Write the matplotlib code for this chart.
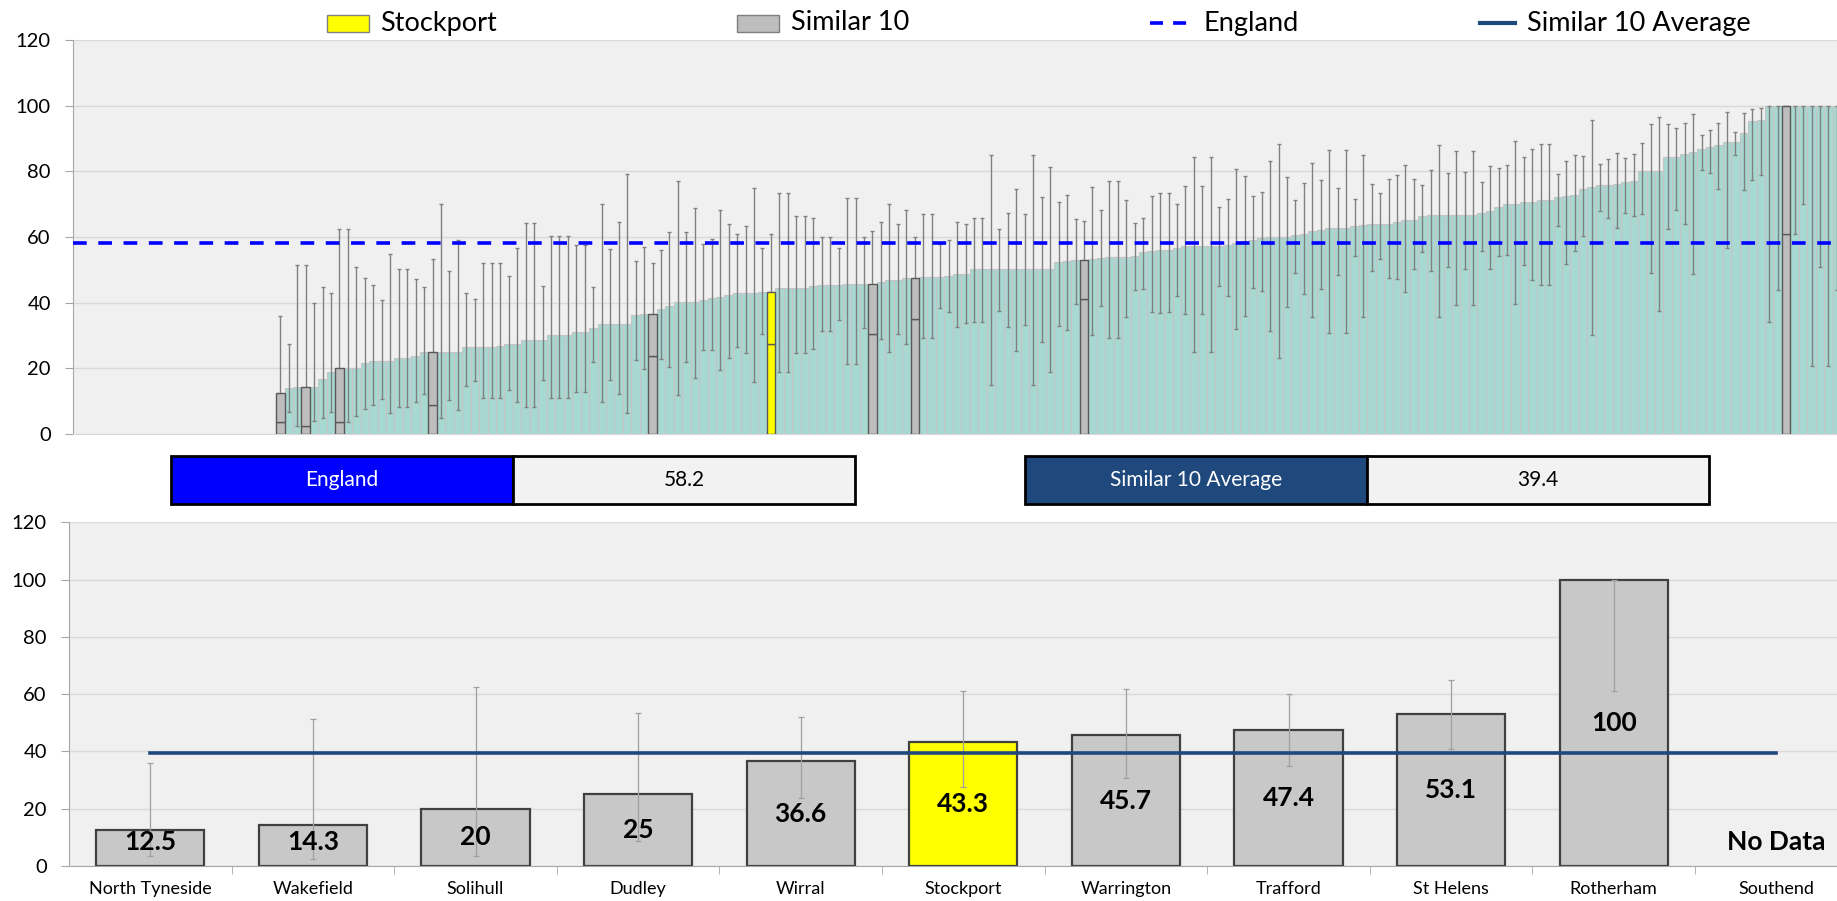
import numpy as np
import matplotlib
matplotlib.use('Agg')
import matplotlib.pyplot as plt
from matplotlib.patches import Rectangle
from matplotlib.lines import Line2D

plt.rcParams['font.family'] = ['Lato', 'DejaVu Sans']

# top panel: all authorities with data, sorted (24 authorities with no data on the left)
n_no_data = 24
top_values = [12.5, 13.9, 14.3, 14.3, 14.3, 16.8, 18.8, 20.0, 20.0, 20.0,
              21.6, 22.2, 22.2, 22.2, 23.0, 23.0, 23.7, 25.0, 25.0, 25.0,
              25.0, 25.0, 26.6, 26.6, 26.6, 26.6, 26.8, 27.4, 27.4, 28.6,
              28.6, 28.6, 30.2, 30.2, 30.2, 31.0, 31.0, 32.2, 33.4, 33.4,
              33.4, 33.4, 36.2, 36.4, 36.6, 38.0, 39.0, 40.1, 40.1, 40.1,
              40.8, 41.5, 41.6, 42.2, 42.8, 42.8, 42.8, 43.2, 43.3, 44.6,
              44.6, 44.6, 44.6, 45.1, 45.3, 45.3, 45.5, 45.6, 45.6, 45.7,
              45.7, 46.2, 46.8, 46.8, 47.4, 47.4, 47.9, 47.9, 47.9, 48.1,
              48.6, 48.8, 50.2, 50.2, 50.2, 50.2, 50.2, 50.2, 50.2, 50.2,
              50.2, 50.2, 52.3, 52.7, 52.9, 53.1, 53.4, 53.7, 53.9, 53.9,
              53.9, 54.2, 55.3, 55.6, 56.0, 56.0, 56.5, 57.3, 57.3, 57.3,
              57.3, 57.3, 57.6, 58.3, 58.7, 59.2, 59.7, 60.0, 60.0, 60.0,
              60.6, 60.9, 61.7, 62.1, 62.7, 62.7, 62.7, 63.4, 63.8, 64.0,
              64.0, 64.0, 64.6, 65.1, 65.2, 66.4, 66.8, 66.8, 66.8, 66.8,
              66.8, 66.8, 67.3, 67.9, 69.0, 70.0, 70.0, 70.6, 70.7, 71.4,
              71.4, 72.1, 72.4, 72.8, 74.5, 75.2, 75.8, 75.8, 76.0, 76.6,
              77.1, 80.1, 80.1, 80.1, 84.3, 84.3, 85.2, 85.8, 86.8, 87.3,
              87.9, 88.9, 88.9, 91.7, 95.3, 95.7, 100, 100, 100, 100,
              100, 100, 100, 100, 100]
top_upper = [36.0, 27.3, 51.4, 51.4, 40.0, 44.9, 43.0, 62.5, 62.5, 51.0,
             47.6, 45.3, 40.8, 54.9, 50.4, 50.4, 47.3, 44.9, 53.3, 70.0,
             49.5, 59.1, 43.0, 41.1, 52.0, 52.0, 52.0, 48.2, 56.5, 64.3,
             64.3, 45.1, 60.4, 60.4, 60.4, 57.6, 57.6, 44.9, 70.0, 56.3,
             64.6, 79.3, 52.6, 57.1, 52.0, 56.0, 61.5, 77.0, 61.5, 68.7,
             57.8, 59.3, 68.1, 63.9, 61.0, 63.5, 75.0, 56.8, 61.0, 73.3,
             73.3, 66.3, 66.3, 65.9, 60.1, 60.1, 56.5, 72.0, 72.0, 59.9,
             61.8, 64.6, 70.0, 63.9, 68.3, 60.1, 67.1, 67.1, 57.8, 59.1,
             64.7, 63.9, 65.9, 65.9, 85.1, 62.5, 67.4, 74.6, 66.9, 85.1,
             72.1, 81.3, 70.8, 72.7, 65.4, 64.9, 75.3, 68.1, 77.0, 77.0,
             71.4, 64.2, 65.9, 72.6, 73.3, 73.3, 70.0, 75.6, 84.3, 75.6,
             84.3, 69.0, 71.5, 80.7, 78.5, 72.4, 73.6, 83.2, 88.2, 78.2,
             71.2, 76.5, 82.4, 77.4, 86.4, 74.8, 86.4, 71.5, 84.9, 76.1,
             73.5, 77.6, 79.0, 81.9, 77.7, 75.7, 80.3, 88.0, 79.4, 86.3,
             79.8, 86.3, 76.9, 81.5, 80.9, 81.9, 89.3, 84.3, 86.7, 88.3,
             88.3, 79.3, 83.1, 85.0, 84.8, 95.5, 82.2, 83.7, 85.7, 84.0,
             85.2, 88.7, 94.3, 96.4, 94.5, 93.1, 94.8, 97.4, 91.2, 92.5,
             94.7, 98.1, 92.0, 97.7, 99.1, 99.4, 100, 100, 100, 100,
             100, 100, 100, 100, 100]
top_lower = [3.6, 6.6, 2.5, 2.5, 4.1, 4.8, 6.6, 3.6, 3.6, 5.6,
             7.6, 8.9, 10.7, 6.3, 8.1, 8.1, 9.6, 12.1, 8.9, 4.8,
             10.4, 7.3, 14.7, 16.0, 10.9, 10.9, 10.9, 13.3, 9.8, 8.2,
             8.2, 16.4, 10.9, 10.9, 10.9, 12.7, 12.7, 21.8, 9.6, 16.4,
             12.1, 6.3, 22.5, 19.7, 23.8, 22.7, 20.3, 11.8, 22.0, 17.0,
             25.6, 25.6, 19.4, 23.1, 26.6, 24.6, 15.8, 30.6, 27.5, 19.0,
             19.0, 24.6, 24.6, 25.9, 31.3, 31.3, 34.6, 21.3, 21.3, 32.2,
             30.6, 28.8, 24.9, 30.4, 27.3, 34.9, 29.3, 29.3, 38.3, 37.3,
             32.5, 33.7, 34.0, 34.0, 15.0, 37.6, 32.7, 25.4, 33.1, 15.0,
             27.9, 18.8, 33.0, 31.7, 39.7, 41.0, 30.2, 38.9, 29.1, 29.1,
             35.5, 43.8, 44.1, 37.3, 37.0, 37.1, 42.1, 36.5, 25.1, 36.5,
             25.1, 45.0, 42.1, 32.0, 36.0, 44.6, 43.6, 31.3, 23.0, 38.8,
             49.0, 42.5, 35.5, 44.1, 30.7, 48.3, 30.7, 54.2, 35.5, 49.6,
             53.2, 47.6, 47.1, 43.4, 50.3, 55.4, 49.7, 35.5, 51.0, 39.2,
             50.4, 39.2, 55.8, 50.2, 54.1, 54.6, 39.7, 51.6, 47.0, 45.4,
             45.4, 63.5, 51.7, 55.8, 60.4, 30.2, 67.9, 65.9, 62.6, 67.3,
             66.3, 67.1, 49.0, 37.6, 62.4, 68.3, 64.1, 48.6, 80.4, 79.6,
             74.5, 56.5, 85.0, 74.2, 77.4, 79.0, 34.2, 44.0, 61.0, 61.0,
             70.2, 20.7, 51.0, 20.7, 44.0]
# position (1-based, within the bars above) of the similar 10 and Stockport
similar_pos = [1, 4, 8, 19, 45, 71, 76, 96, 179]
stockport_pos = 59

# bottom panel
areas = ['North Tyneside', 'Wakefield', 'Solihull', 'Dudley', 'Wirral', 'Stockport',
         'Warrington', 'Trafford', 'St Helens', 'Rotherham', 'Southend']
area_values = [12.5, 14.3, 20, 25, 36.6, 43.3, 45.7, 47.4, 53.1, 100, np.nan]
area_upper = [36.0, 51.4, 62.5, 53.3, 52.0, 61.0, 61.8, 60.1, 64.9, 100, np.nan]
area_lower = [3.6, 2.5, 3.6, 8.9, 23.8, 27.5, 30.6, 34.9, 41.0, 61.0, np.nan]

england = 58.2
similar_avg = 39.4

W, H = 1837, 901
fig = plt.figure(figsize=(W / 100, H / 100), dpi=100)

teal = '#A8D8D2'
grey_bar = '#BDBDBD'
bg = '#F0F0F0'
grid_c = '#D9D9D9'
axis_c = '#A6A6A6'
navy = '#1F497D'


def style_axes(ax):
    ax.set_facecolor(bg)
    ax.set_ylim(0, 120)
    ax.set_yticks(range(0, 121, 20))
    ax.yaxis.grid(True, color=grid_c, lw=1)
    ax.set_axisbelow(True)
    for s in ['top', 'right']:
        ax.spines[s].set_visible(False)
    ax.spines['left'].set_color(axis_c)
    ax.spines['bottom'].set_color(grid_c)
    ax.tick_params(axis='y', length=6, color=axis_c, pad=10, labelsize=14.5)


# ---- top chart ----
pitch = 8.46
n_slots = n_no_data + len(top_values)
ax1 = fig.add_axes([73 / W, 1 - 434 / H, n_slots * pitch / W, 394 / H])
style_axes(ax1)
x = np.arange(len(top_values)) + n_no_data
vals = np.array(top_values)
lo = np.array(top_lower)
hi = np.array(top_upper)
ax1.bar(x, vals, width=1.0, color=teal, edgecolor='#C4C4C4', lw=0.8, zorder=1)
ax1.errorbar(x, vals, yerr=[vals - lo, hi - vals], fmt='none', ecolor='#808080',
             elinewidth=1, capsize=1.7, capthick=1, zorder=2)
for p in similar_pos + [stockport_pos]:
    i = p - 1
    c = '#FFFF00' if p == stockport_pos else grey_bar
    ax1.bar(x[i], lo[i], width=1.0, color=c, edgecolor='#595959', lw=1, zorder=3)
    ax1.bar(x[i], vals[i] - lo[i], bottom=lo[i], width=1.0, color=c,
            edgecolor='#595959', lw=1, zorder=3)
ax1.axhline(england, color='#0000FF', lw=2.6, ls=(0, (3.8, 3.2)), zorder=4)
ax1.set_xlim(-0.5, n_slots - 0.5)
ax1.set_xticks([])

# ---- bottom chart ----
ax2 = fig.add_axes([69 / W, 1 - 866 / H, 11 * 162.6 / W, 343.7 / H])
style_axes(ax2)
ax2.spines['bottom'].set_color(axis_c)
xb = np.arange(len(areas))
bv = np.array(area_values)
colors = ['#FFFF00' if a == 'Stockport' else '#C8C8C8' for a in areas]
ax2.bar(xb, bv, width=0.665, color=colors, edgecolor='#404040', lw=1.6, zorder=2)
ax2.errorbar(xb, bv, yerr=[bv - np.array(area_lower), np.array(area_upper) - bv],
             fmt='none', ecolor='#A0A0A0', elinewidth=0.9, capsize=2.2, capthick=0.9,
             zorder=3)
ax2.plot([0, len(areas) - 1], [similar_avg, similar_avg], color=navy, lw=2.6, zorder=4)
for i, v in enumerate(area_values):
    if np.isnan(v):
        ax2.text(i, 8.3, 'No Data', ha='center', va='center', fontsize=19,
                 fontweight='bold', zorder=5)
    else:
        ax2.text(i, max(v / 2, 8.3), f'{v:g}', ha='center', va='center', fontsize=19,
                 fontweight='bold', zorder=5)
ax2.set_xlim(-0.5, len(areas) - 0.5)
ax2.set_xticks(xb)
ax2.set_xticklabels(areas, fontsize=13)
ax2.set_xticks(xb[:-1] + 0.5, minor=True)
ax2.tick_params(axis='x', which='major', length=0, pad=11)
ax2.tick_params(axis='x', which='minor', length=6, color=axis_c)

# ---- value boxes between the charts ----
def value_box(x0, label, value, fill):
    y0 = 1 - 504 / H
    h = 48 / H
    w = 342 / W
    fig.add_artist(Rectangle((x0 / W, y0), w, h, facecolor=fill, edgecolor='black',
                             lw=2, transform=fig.transFigure))
    fig.add_artist(Rectangle((x0 / W + w, y0), w, h, facecolor='#F2F2F2',
                             edgecolor='black', lw=2, transform=fig.transFigure))
    fig.text(x0 / W + w / 2, y0 + h / 2, label, color='white', fontsize=15,
             ha='center', va='center')
    fig.text(x0 / W + 1.5 * w, y0 + h / 2, value, color='black', fontsize=15,
             ha='center', va='center')


value_box(171, 'England', f'{england}', '#0000FF')
value_box(1025, 'Similar 10 Average', f'{similar_avg}', navy)

# ---- legend along the top ----
ly = 1 - 23 / H
fig.add_artist(Rectangle((327 / W, 1 - 32 / H), 42 / W, 17 / H, facecolor='#FFFF00',
                         edgecolor='#7F7F7F', lw=1, transform=fig.transFigure))
fig.add_artist(Rectangle((737 / W, 1 - 32 / H), 42 / W, 17 / H, facecolor=grey_bar,
                         edgecolor='#7F7F7F', lw=1, transform=fig.transFigure))
fig.add_artist(Line2D([1150 / W, 1187 / W], [ly, ly], color='#0000FF', lw=2.6,
                      ls=(0, (3.6, 2.8)), transform=fig.transFigure))
fig.add_artist(Line2D([1480 / W, 1515 / W], [ly, ly], color=navy, lw=3,
                      transform=fig.transFigure))
for tx, t in [(380, 'Stockport'), (791, 'Similar 10'), (1204, 'England'),
              (1527, 'Similar 10 Average')]:
    fig.text(tx / W, ly, t, fontsize=19.5, ha='left', va='center')

plt.savefig('out.png', dpi=100)
